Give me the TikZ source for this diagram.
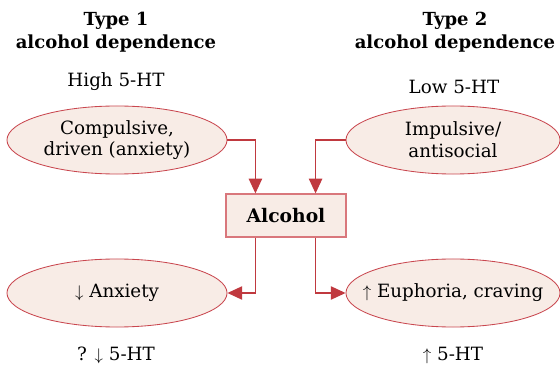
\documentclass[tikz,border=0pt]{standalone}
\usepackage{fontspec}
\setmainfont{DejaVu Serif}
\usetikzlibrary{shapes.geometric,arrows.meta}
\definecolor{paleRose}{HTML}{F8ECE6}
\definecolor{rimRed}{HTML}{C9474F}
\definecolor{boxRed}{HTML}{D9777C}
\definecolor{arrRed}{HTML}{C0393F}
\tikzstyle{mood}=[ellipse,draw=rimRed,fill=paleRose,line width=0.6pt,minimum width=5.5cm,minimum height=1.7cm,inner ysep=0pt,inner xsep=-0.5cm,align=center,font=\fontsize{13}{15.5}\selectfont]
\tikzstyle{drug}=[rectangle,draw=boxRed,fill=paleRose,line width=0.8pt,minimum width=3cm,minimum height=1.075cm,inner sep=0pt,font=\fontsize{13.3}{14}\selectfont\bfseries]
\tikzstyle{head}=[align=center,font=\fontsize{12.8}{16.3}\selectfont\bfseries]
\tikzstyle{plain}=[font=\fontsize{13}{14}\selectfont]
\tikzstyle{link}=[draw=arrRed,line width=0.9pt,-{Triangle[length=10.5pt,width=9.5pt]}]

\begin{document}
\begin{tikzpicture}[x=0.025cm,y=-0.025cm]
    \useasboundingbox (0,0) rectangle (560,367);
    %Headings
    \node[head] (typeA) at (116,32) {Type 1\\alcohol dependence};
    \node[head] (typeB) at (455,32) {Type 2\\alcohol dependence};
    \foreach \pos/\name/\txt in {{(116,82)/htA/High 5-HT}, {(454,87)/htB/Low 5-HT},
                                 {(116,355)/htC/? $\downarrow$ 5-HT}, {(453,355)/htD/$\uparrow$ 5-HT}}
    \node[plain] (\name) at \pos {\txt};
    %Ellipses
    \node[mood] (ellA) at (117,140) {Compulsive,\\driven (anxiety)};
    \node[mood,minimum width=5.35cm] (ellB) at (453,140) {Impulsive/\\antisocial};
    \node[mood] (ellC) at (117,293) {$\downarrow$ Anxiety};
    \node[mood,minimum width=5.35cm] (ellD) at (453,293) {$\uparrow$ Euphoria, craving};
    %Alcohol
    \node[drug] (alc) at (286,215.5) {Alcohol};
    \draw[link] (ellA.east) -| ([xshift=0.75cm]alc.north west);
    \draw[link] (ellB.west) -| ([xshift=-0.775cm]alc.north east);
    \draw[link] ([xshift=0.75cm]alc.south west) |- (ellC.east);
    \draw[link] ([xshift=-0.775cm]alc.south east) |- (ellD.west);
\end{tikzpicture}
\end{document}
